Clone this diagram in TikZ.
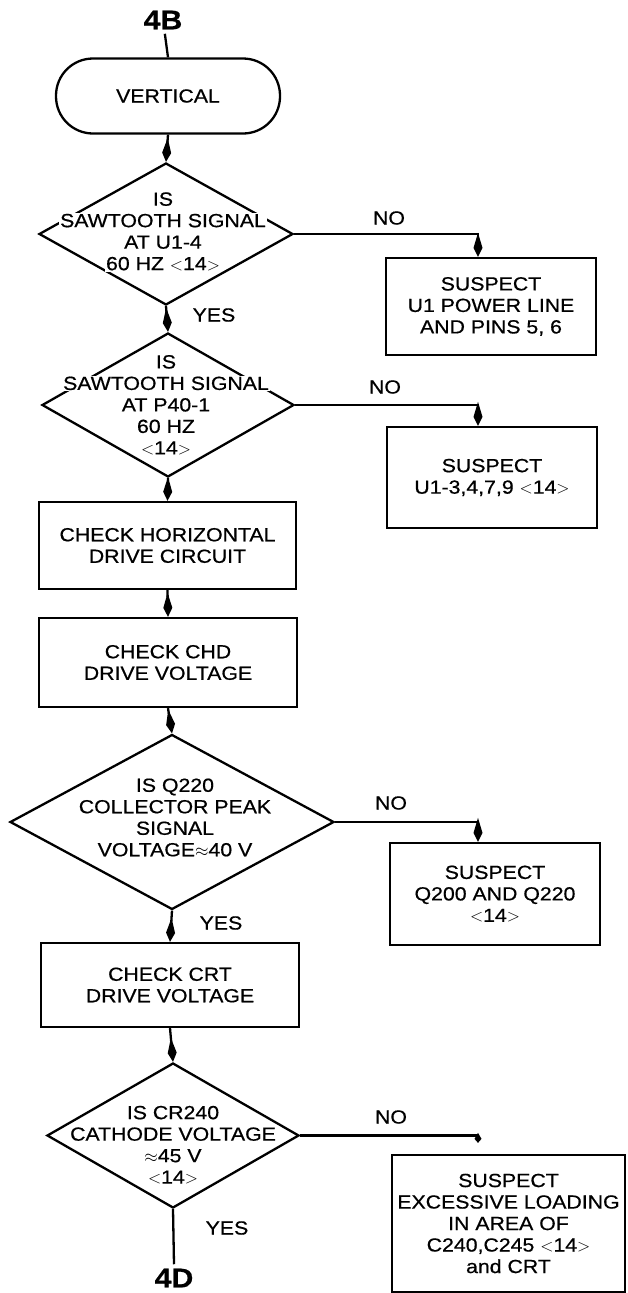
\documentclass[tikz,border=0pt]{standalone}
\usepackage{fontspec}
\setmainfont{Liberation Sans}[FakeStretch=1.12, FakeBold=0.6]
\usetikzlibrary{shapes.geometric,arrows.meta}

% white box behind a line of text that cuts a diamond edge
\newcommand{\gap}[1]{{\setlength{\fboxsep}{1pt}\colorbox{white}{#1}}}

\begin{document}
\begin{tikzpicture}[x=1pt, y=-1pt, line width=2.3pt, font=\fontsize{19}{21.5}\selectfont]
  \tikzset{
    term box/.style={draw, rounded corners=37pt, minimum width=224pt, minimum height=75pt},
    act box/.style={draw, align=center, inner sep=0pt},
    dec shape/.style={draw, diamond, inner sep=0pt},
    dec text/.style={align=center, inner sep=0pt},
    flow/.style={-{Kite[length=24pt, width=9pt, inset=15pt]}},
    tag/.style={font=\fontsize{27}{27}\selectfont\bfseries}
  }
  \useasboundingbox (0,0) rectangle (627,1293);

  % Entry and start
  \node[tag] (in4b) at (163,20) {4B};
  \node[term box] (vert) at (168,96) {VERTICAL};
  \coordinate (drop) at (478,0);

  % First test: sawtooth at U1-4
  \node[dec shape, minimum width=254pt, minimum height=142pt] (d1) at (166,234) {};
  \node[dec text] (t1) at (163,232) {IS\\\gap{SAWTOOTH SIGNAL}\\AT U1-4\\\gap{60 HZ $<$14$>$}};
  \node[act box, minimum width=210pt, minimum height=97pt] (s1) at (491,306.5)
    {SUSPECT\\U1 POWER LINE\\AND PINS 5, 6};

  % Second test: sawtooth at P40-1
  \node[dec shape, minimum width=252pt, minimum height=144pt] (d2) at (168,405) {};
  \node[dec text] (t2) at (166,405) {IS\\\gap{SAWTOOTH SIGNAL}\\AT P40-1\\60 HZ\\$<$14$>$};
  \node[act box, minimum width=210pt, minimum height=101pt] (s2) at (492,477.5)
    {SUSPECT\\U1-3,4,7,9 $<$14$>$};

  % Checks
  \node[act box, minimum width=257pt, minimum height=87pt] (b3) at (167.5,545.5)
    {CHECK HORIZONTAL\\DRIVE CIRCUIT};
  \node[act box, minimum width=258pt, minimum height=89pt] (b4) at (168,662.5)
    {CHECK CHD\\DRIVE VOLTAGE};

  % Third test: Q220 collector
  \node[dec shape, minimum width=324pt, minimum height=175pt] (d3) at (172,822) {};
  \node[dec text] (t3) at (175,817.5) {IS Q220\\COLLECTOR PEAK\\SIGNAL\\VOLTAGE$\approx$40 V};
  \node[act box, minimum width=210pt, minimum height=102pt] (s3) at (495,894)
    {SUSPECT\\Q200 AND Q220\\$<$14$>$};

  \node[act box, minimum width=258pt, minimum height=84pt] (b5) at (170,985)
    {CHECK CRT\\DRIVE VOLTAGE};

  % Fourth test: CR240 cathode
  \node[dec shape, minimum width=252pt, minimum height=145pt] (d4) at (173,1135.5) {};
  \node[dec text] (t4) at (173,1145) {IS CR240\\\gap{CATHODE VOLTAGE}\\$\approx$45 V\\$<$14$>$};
  \node[act box, minimum width=233pt, minimum height=137pt] (s4) at (508.5,1223.5)
    {SUSPECT\\EXCESSIVE LOADING\\IN AREA OF\\C240,C245 $<$14$>$\\and CRT};
  \node[tag] (out4d) at (174,1278) {4D};

  % YES / NO labels
  \node (no1) at (389,218) {NO};
  \node (no2) at (385,387) {NO};
  \node (no3) at (391,803) {NO};
  \node (no4) at (391,1117) {NO};
  \node (yes1) at (214,315) {YES};
  \node (yes3) at (221,923) {YES};
  \node (yes4) at (227,1228) {YES};

  % Main column
  \draw (in4b) -- (vert.north);
  \draw[flow] (vert.south) -- (d1.north);
  \draw[flow] (d1.south) -- (d2.north);
  \draw[flow] (d2.south) -- (b3.north);
  \draw[flow] (b3.south) -- (b4.north);
  \draw[flow] (b4.south) -- (d3.north);
  \draw[flow] (d3.south) -- (b5.north);
  \draw[flow] (b5.south) -- (d4.north);
  \draw (d4.south) -- (out4d.north);

  % NO branches
  \draw[flow] (d1.east) -| (drop |- s1.north);
  \draw[flow] (d2.east) -| (drop |- s2.north);
  \draw[flow] (d3.east) -| (drop |- s3.north);
  \draw[-{Kite[length=10pt, width=7pt, inset=6pt]}, shorten >=11pt] (d4.east) -| (drop |- s4.north);
\end{tikzpicture}
\end{document}
